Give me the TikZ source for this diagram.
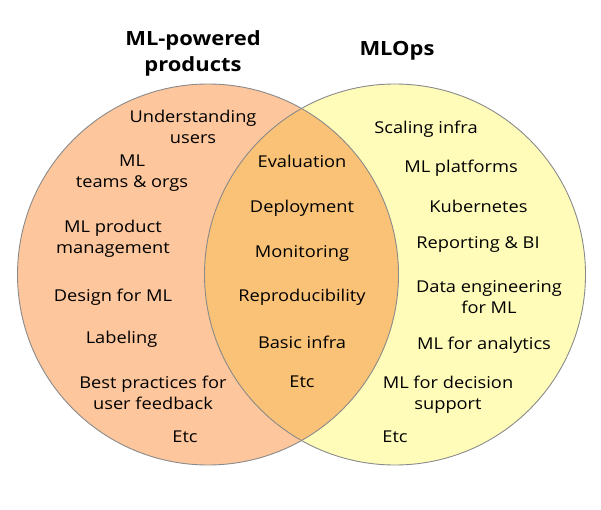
\documentclass[tikz,border=0pt]{standalone}
\usepackage{fontspec}
\setmainfont{Open Sans}[FakeStretch=1.12]
\definecolor{leftfill}{HTML}{FDC69C}
\definecolor{rightfill}{HTML}{FFFCBA}
\definecolor{midfill}{HTML}{FAC277}
\definecolor{edge}{HTML}{8A8A8A}
\begin{document}
\begin{tikzpicture}[x=1pt,y=-1pt,
  lbl/.style={font=\fontsize{16.3}{21}\selectfont, align=center, inner sep=0pt, text=black},
  ttl/.style={font=\fontsize{19.6}{26}\selectfont\bfseries, align=center, inner sep=0pt},
  ring/.style={draw=edge, line width=0.9pt}]
\useasboundingbox (0,0) rectangle (601,510);
\fill[rightfill] (395,274.5) circle (190.5);
\fill[leftfill] (208,274.5) circle (190.5);
\begin{scope}
  \clip (208,274.5) circle (190.5);
  \fill[midfill] (395,274.5) circle (190.5);
\end{scope}
\draw[ring] (395,274.5) circle (190.5);
\draw[ring] (208,274.5) circle (190.5);
% titles
\node[ttl] (tleft) at (193,53) {ML-powered\\products};
\node[ttl] (tright) at (397,51) {MLOps};
% left
\node[lbl] (l1) at (193,126.5) {Understanding\\users};
\node[lbl] (l2) at (132,173.5) {ML\\teams \& orgs};
\node[lbl] (l3) at (113,238.5) {ML product\\management};
\node[lbl] (l4) at (113,297) {Design for ML};
\node[lbl] (l5) at (121.5,339) {Labeling};
\node[lbl] (l6) at (153,393) {Best practices for\\user feedback};
\node[lbl] (l7) at (185,437) {Etc};
% middle
\node[lbl] (m1) at (302,161) {Evaluation};
\node[lbl] (m2) at (302,208) {Deployment};
\node[lbl] (m3) at (302,253) {Monitoring};
\node[lbl] (m4) at (302,297) {Reproducibility};
\node[lbl] (m5) at (302,342) {Basic infra};
\node[lbl] (m6) at (302,382) {Etc};
% right
\node[lbl] (r1) at (426,129) {Scaling infra};
\node[lbl] (r2) at (461,168) {ML platforms};
\node[lbl] (r3) at (478.5,206) {Kubernetes};
\node[lbl] (r4) at (478,244) {Reporting \& BI};
\node[lbl] (r5) at (489,297) {Data engineering\\for ML};
\node[lbl] (r6) at (484,345) {ML for analytics};
\node[lbl] (r7) at (448,394.5) {ML for decision\\support};
\node[lbl] (r8) at (395,437) {Etc};
\end{tikzpicture}
\end{document}
